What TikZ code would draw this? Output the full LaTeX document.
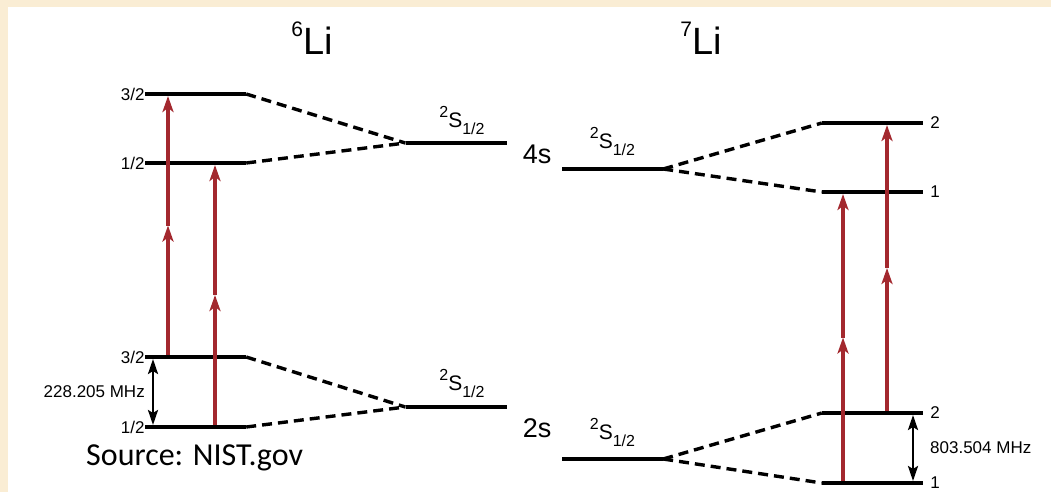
\documentclass[tikz,border=0pt]{standalone}
\usepackage{fontspec}
\setmainfont{Liberation Sans}
\newfontfamily\calibri{Carlito}
\usetikzlibrary{arrows.meta,calc}
\definecolor{parch}{RGB}{250,237,212}
\definecolor{laser}{RGB}{163,40,46}
\newcommand{\Sterm}{{\fontsize{16}{16}\selectfont\raisebox{10pt}{2}}S{\fontsize{16}{16}\selectfont\raisebox{-7pt}{1/2}}}
\begin{document}
\begin{tikzpicture}[x=1pt,y=-1pt,
  level/.style={fill=black,inner sep=0pt,minimum width=101pt,minimum height=3.6pt},
  split/.style={line width=3.4pt,dash pattern=on 10pt off 6pt},
  photon/.style={laser,line width=3.2pt,-{Stealth[length=16pt,width=11pt,inset=4pt]}},
  hfs/.style={line width=2.5pt,{Stealth[length=15pt,width=10pt,inset=3pt]}-{Stealth[length=15pt,width=10pt,inset=3pt]}},
  flab/.style={font=\fontsize{17}{17}\selectfont,inner sep=0pt},
  term/.style={font=\fontsize{21}{21}\selectfont,inner sep=0pt,anchor=base}]
% background
\useasboundingbox (0,0) rectangle (1051,492);
\fill[parch] (0,0) rectangle (1051,492);
\fill[white] (8,7) rectangle (1051,492);
% titles
\node[anchor=base,inner sep=0pt] (t6) at (312,55) {{\fontsize{21}{21}\selectfont\raisebox{18pt}{6}}\fontsize{38}{38}\selectfont Li};
\node[anchor=base,inner sep=0pt] (t7) at (701,55) {{\fontsize{21}{21}\selectfont\raisebox{18pt}{7}}\fontsize{38}{38}\selectfont Li};
% levels
\foreach \n/\x/\y in {a32/195.5/94, a12/195.5/163, g32/195.5/357, g12/195.5/427,
  s6e/456/143, s6g/456/407, s7e/612.5/169, s7g/612.5/459,
  b2/872.5/123, b1/872.5/192, h2/872.5/413, h1/872.5/483}
  {\node[level] (\n) at (\x,\y) {};}
% hyperfine splitting
\draw[split] (a32.east) -- (s6e.west);
\draw[split] (a12.east) -- (s6e.west);
\draw[split] (g32.east) -- (s6g.west);
\draw[split] (g12.east) -- (s6g.west);
\draw[split] (s7e.east) -- (b2.west);
\draw[split] (s7e.east) -- (b1.west);
\draw[split] (s7g.east) -- (h2.west);
\draw[split] (s7g.east) -- (h1.west);
% F labels
\foreach \n/\lab in {a32/{3/2}, a12/{1/2}, g32/{3/2}, g12/{1/2}}
  {\node[flab,anchor=east] (f\n) at (\n.west) {\lab};}
\foreach \n/\lab in {b2/2, b1/1, h2/2, h1/1}
  {\node[flab,anchor=west,xshift=7pt] (f\n) at (\n.east) {\lab};}
% term symbols
\node[term,xshift=6pt,yshift=15pt] (ts6e) at (s6e.center) {\Sterm};
\node[term,xshift=6pt,yshift=17pt] (ts6g) at (s6g.center) {\Sterm};
\node[term,yshift=21pt] (ts7e) at (s7e.center) {\Sterm};
\node[term,yshift=20pt] (ts7g) at (s7g.center) {\Sterm};
\node[font=\fontsize{27}{27}\selectfont,inner sep=0pt] (n4s) at (537,154) {4s};
\node[font=\fontsize{27}{27}\selectfont,inner sep=0pt] (n2s) at (537,428) {2s};
% two-photon transitions
\coordinate (p1) at (168,0);
\coordinate (p2) at (215,0);
\coordinate (p3) at (843,0);
\coordinate (p4) at (887,0);
\foreach \p/\lo/\hi in {p1/g32/a32, p2/g12/a12, p3/h1/b1, p4/h2/b2}{
  \coordinate (m\p) at ($(\p |- \lo)!.5!(\p |- \hi)$);
  \draw[photon] (\p |- \lo.north) -- (m\p);
  \draw[photon] (m\p) -- (\p |- \hi.south);
}
% ground state splittings
\coordinate (d6) at (153,0);
\coordinate (d7) at (913,0);
\draw[hfs] (d6 |- g32.south) -- (d6 |- g12.north);
\draw[hfs] (d7 |- h2.south) -- (d7 |- h1.north);
\node[flab,anchor=east,xshift=-8pt] (hf6) at ($(d6 |- g32)!.5!(d6 |- g12)$) {228.205 MHz};
\node[flab,anchor=west,xshift=17pt] (hf7) at ($(d7 |- h2)!.5!(d7 |- h1)$) {803.504 MHz};
% source
\node[font=\calibri\fontsize{32}{32}\selectfont,anchor=base west,inner sep=0pt] (src) at (86,465) {Source: NIST.gov};
\end{tikzpicture}
\end{document}
